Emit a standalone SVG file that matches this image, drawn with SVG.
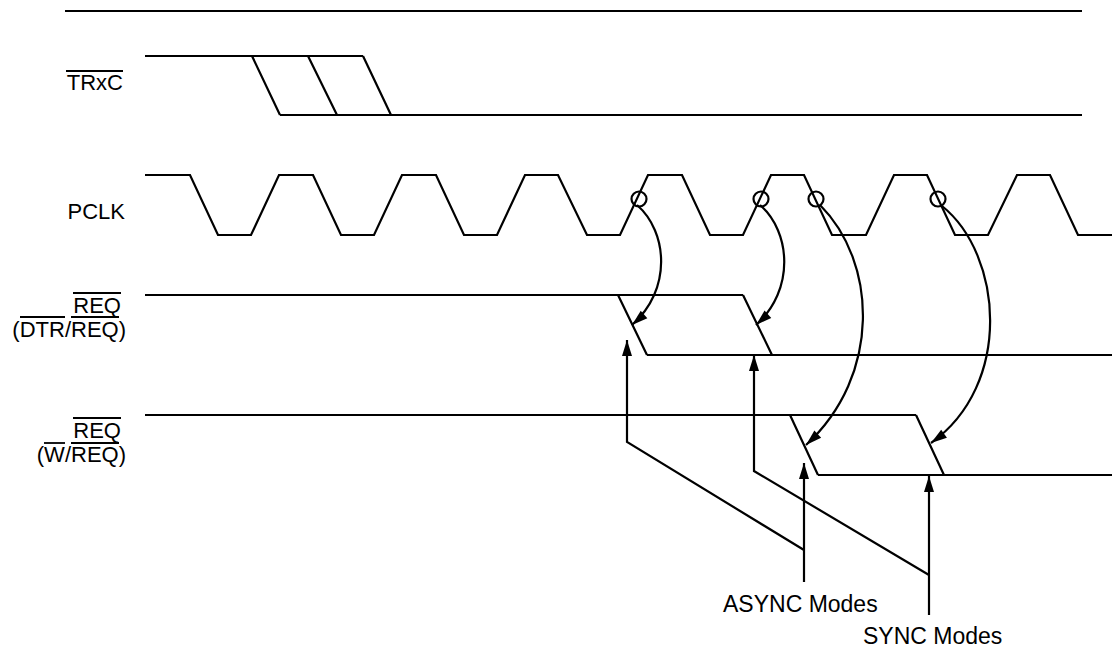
<svg xmlns="http://www.w3.org/2000/svg" width="1114" height="651" viewBox="0 0 1114 651">
<style>
.w{fill:none;stroke:#000;stroke-width:2.2;stroke-linejoin:miter}
.c{fill:none;stroke:#000;stroke-width:2.2}
.ol{stroke:#000;stroke-width:1.8}
.lb{font-family:"Liberation Sans",Arial,sans-serif;font-size:22px;fill:#000}
.bl{font-family:"Liberation Sans",Arial,sans-serif;font-size:23px;fill:#000}
</style>
<defs>
<marker id="ah" markerUnits="userSpaceOnUse" markerWidth="20" markerHeight="12" viewBox="-17 -6 18 12" refX="0" refY="0" orient="auto">
<path d="M0,0 L-16,-5 L-16,5 z" fill="#000"/>
</marker>
</defs>
<rect width="1114" height="651" fill="#fff"/>
<g id="frame">
<line class="w" x1="65" y1="11" x2="1082" y2="11"/>
</g>
<g id="trxc">
<text class="lb" x="123" y="90" text-anchor="end">TRxC</text>
<line class="ol" x1="66" y1="71" x2="123" y2="71"/>
<path class="w" d="M145,56 L363,56 M252,56 L280,115 M308,56 L337,115 M363,56 L391,115 M280,115 L1082,115"/>
</g>
<g id="pclk">
<text class="lb" x="125" y="219" text-anchor="end">PCLK</text>
<path class="w" d="M145,175 L190,175 L218,235 L251,235 L279,175 L313,175 L341,235 L374,235 L402,175 L436,175 L464,235 L497,235 L525,175 L558,175 L587,235 L620,235 L648,175 L682,175 L710,235 L743,235 L771,175 L804,175 L832,235 L866,235 L894,175 L927,175 L955,235 L988,235 L1017,175 L1050,175 L1078,235 L1112,235"/>
<circle class="c" cx="639" cy="199" r="7.5"/>
<circle class="c" cx="761" cy="199" r="7.5"/>
<circle class="c" cx="816" cy="199" r="7.5"/>
<circle class="c" cx="938" cy="199" r="7.5"/>
</g>
<g id="req1">
<text class="lb" x="121" y="313" text-anchor="end">REQ</text>
<line class="ol" x1="73" y1="293" x2="121" y2="293"/>
<text class="lb" x="126" y="337" text-anchor="end">(DTR/REQ)</text>
<line class="ol" x1="20" y1="317" x2="65" y2="317"/>
<line class="ol" x1="71" y1="317" x2="119" y2="317"/>
<path class="w" d="M145,295 L743,295 M618,295 L647,355 M743,295 L772,355 M647,355 L1112,355"/>
</g>
<g id="req2">
<text class="lb" x="121" y="438" text-anchor="end">REQ</text>
<line class="ol" x1="73" y1="418" x2="121" y2="418"/>
<text class="lb" x="126" y="462" text-anchor="end">(W/REQ)</text>
<line class="ol" x1="44" y1="443" x2="65" y2="443"/>
<line class="ol" x1="71" y1="443" x2="119" y2="443"/>
<path class="w" d="M145,415 L916,415 M790,415 L818,475 M916,415 L944,475 M818,475 L1112,475"/>
</g>
<g id="async-label">
<text class="bl" x="723" y="612">ASYNC Modes</text>
</g>
<g id="sync-label">
<text class="bl" x="863" y="644">SYNC Modes</text>
</g>
<g id="connectors">
<path class="c" d="M637,205 C668,232 672,290 632,325" marker-end="url(#ah)"/>
<path class="c" d="M760,205 C791,232 795,290 756,325" marker-end="url(#ah)"/>
<path class="c" d="M820,205 C877,262 882,375 806,445" marker-end="url(#ah)"/>
<path class="c" d="M942,206 C1003,255 1013,385 931,443" marker-end="url(#ah)"/>
<path class="c" d="M804,550 L627,442 L627,340" marker-end="url(#ah)"/>
<path class="c" d="M804,582 L804,463" marker-end="url(#ah)"/>
<path class="c" d="M929,575 L754,471 L754,355" marker-end="url(#ah)"/>
<path class="c" d="M929,615 L929,476" marker-end="url(#ah)"/>
</g>
</svg>
